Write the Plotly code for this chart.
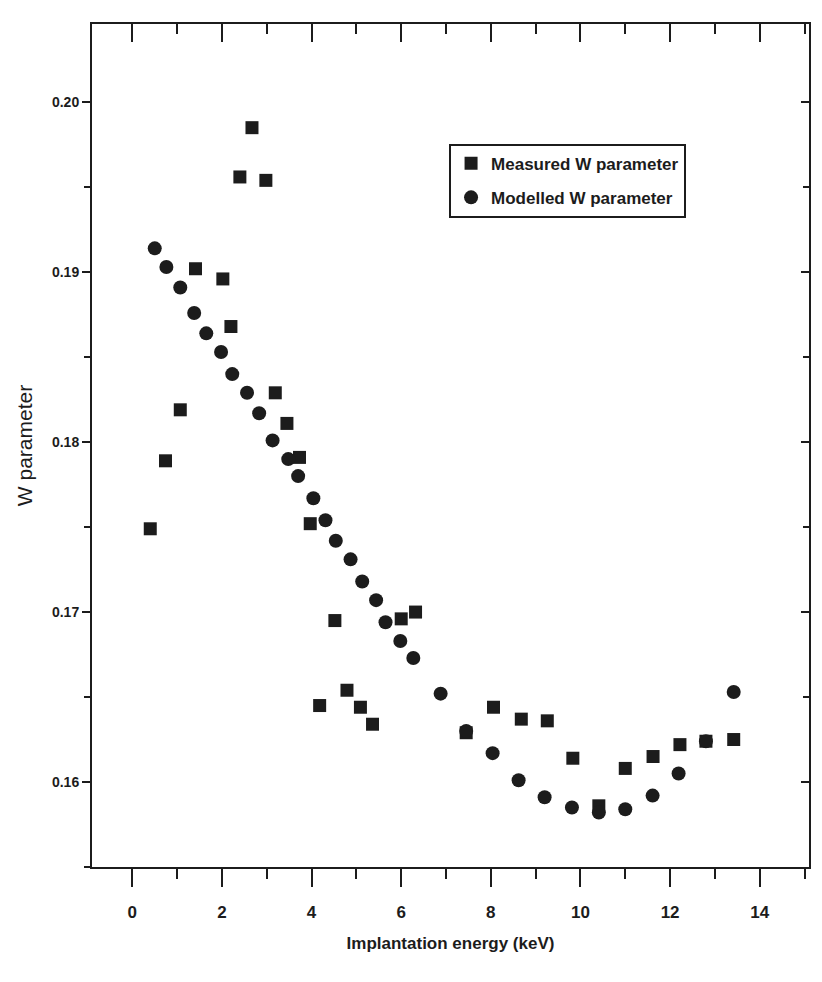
import plotly.graph_objects as go

# Measured W parameter (squares)
measured_energy = [0.40, 0.74, 1.07, 1.41, 2.02, 2.20, 2.40, 2.67, 2.98, 3.19, 3.45, 3.73,
                   3.97, 4.18, 4.52, 4.79, 5.09, 5.36, 6.00, 6.32, 7.45, 8.06, 8.68, 9.26,
                   9.83, 10.41, 11.00, 11.62, 12.22, 12.80, 13.42]
measured_w = [0.1749, 0.1789, 0.1819, 0.1902, 0.1896, 0.1868, 0.1956, 0.1985, 0.1954, 0.1829,
              0.1811, 0.1791, 0.1752, 0.1645, 0.1695, 0.1654, 0.1644, 0.1634, 0.1696, 0.1700,
              0.1629, 0.1644, 0.1637, 0.1636, 0.1614, 0.1586, 0.1608, 0.1615, 0.1622, 0.1624,
              0.1625]

# Modelled W parameter (circles)
modelled_energy = [0.50, 0.76, 1.07, 1.38, 1.65, 1.98, 2.23, 2.56, 2.83, 3.13, 3.48, 3.70,
                   4.04, 4.31, 4.54, 4.87, 5.13, 5.44, 5.65, 5.98, 6.27, 6.88, 7.45, 8.04,
                   8.62, 9.20, 9.81, 10.41, 11.00, 11.61, 12.19, 12.80, 13.42]
modelled_w = [0.1914, 0.1903, 0.1891, 0.1876, 0.1864, 0.1853, 0.1840, 0.1829, 0.1817, 0.1801,
              0.1790, 0.1780, 0.1767, 0.1754, 0.1742, 0.1731, 0.1718, 0.1707, 0.1694, 0.1683,
              0.1673, 0.1652, 0.1630, 0.1617, 0.1601, 0.1591, 0.1585, 0.1582, 0.1584, 0.1592,
              0.1605, 0.1624, 0.1653]

x_tick_values = [0, 2, 4, 6, 8, 10, 12, 14]
y_tick_values = [0.16, 0.17, 0.18, 0.19, 0.20]
x_range = [-0.9, 15.1]
y_range = [0.155, 0.2046]

series_names = ["Measured W parameter", "Modelled W parameter"]
x_title = "Implantation energy (keV)"
y_title = "W parameter"

INK = "#1c1c1c"
FONT = "Liberation Sans, Arial, sans-serif"

fig = go.Figure()
fig.add_trace(go.Scatter(
    x=measured_energy, y=measured_w, mode="markers", name=series_names[0],
    legendgroup="a",
    marker=dict(symbol="square", size=13, color=INK, line=dict(width=0)),
))
fig.add_trace(go.Scatter(
    x=modelled_energy, y=modelled_w, mode="markers", name=series_names[1],
    legendgroup="b",
    marker=dict(symbol="circle", size=14, color=INK, line=dict(width=0)),
))

fig.update_layout(
    width=822, height=982,
    margin=dict(l=92, r=13, t=24, b=115),
    paper_bgcolor="white", plot_bgcolor="white",
    font=dict(family=FONT, color=INK, size=14),
    showlegend=True,
    legend=dict(
        x=0.498, y=0.858, xanchor="left", yanchor="top",
        bordercolor=INK, borderwidth=2, bgcolor="white",
        font=dict(family=FONT, size=17, color=INK, weight="bold"),
        tracegroupgap=9, itemwidth=30,
    ),
    xaxis=dict(
        range=x_range, tickvals=x_tick_values, ticktext=[str(v) for v in x_tick_values],
        showgrid=False, zeroline=False, showline=True, linecolor=INK, linewidth=2,
        ticks="outside", ticklen=18, tickwidth=2, tickcolor=INK,
        minor=dict(dtick=1, tick0=0, ticks="outside", ticklen=10, tickwidth=2, tickcolor=INK),
        tickfont=dict(family=FONT, size=17, color=INK, weight="bold"),
        ticklabelstandoff=11,
        title=dict(text=x_title, standoff=16,
                   font=dict(family=FONT, size=17, color=INK, weight="bold")),
    ),
    yaxis=dict(
        range=y_range, tickvals=y_tick_values, ticktext=["%.2f" % v for v in y_tick_values],
        showgrid=False, zeroline=False, showline=True, linecolor=INK, linewidth=2,
        ticks="outside", ticklen=8, tickwidth=2, tickcolor=INK,
        minor=dict(dtick=0.005, tick0=0.155, ticks="outside", ticklen=6, tickwidth=2, tickcolor=INK),
        tickfont=dict(family=FONT, size=14, color=INK, weight="bold"),
        title=dict(text=y_title, standoff=14, font=dict(family=FONT, size=21, color=INK)),
    ),
    xaxis2=dict(
        overlaying="x", side="top", matches="x", range=x_range, tickvals=x_tick_values,
        showticklabels=False, showgrid=False, zeroline=False, showline=True,
        linecolor=INK, linewidth=2, ticks="inside", ticklen=18, tickwidth=2, tickcolor=INK,
        minor=dict(dtick=1, tick0=0, ticks="inside", ticklen=10, tickwidth=2, tickcolor=INK),
    ),
    yaxis2=dict(
        overlaying="y", side="right", matches="y", range=y_range, tickvals=y_tick_values,
        showticklabels=False, showgrid=False, zeroline=False, showline=True,
        linecolor=INK, linewidth=2, ticks="inside", ticklen=8, tickwidth=2, tickcolor=INK,
        minor=dict(dtick=0.005, tick0=0.155, ticks="inside", ticklen=6, tickwidth=2, tickcolor=INK),
    ),
)

# invisible helper trace so the top/right frame axes are drawn
fig.add_trace(go.Scatter(x=[None], y=[None], xaxis="x2", yaxis="y2",
                         showlegend=False, hoverinfo="skip"))

fig.write_html("out.html")
